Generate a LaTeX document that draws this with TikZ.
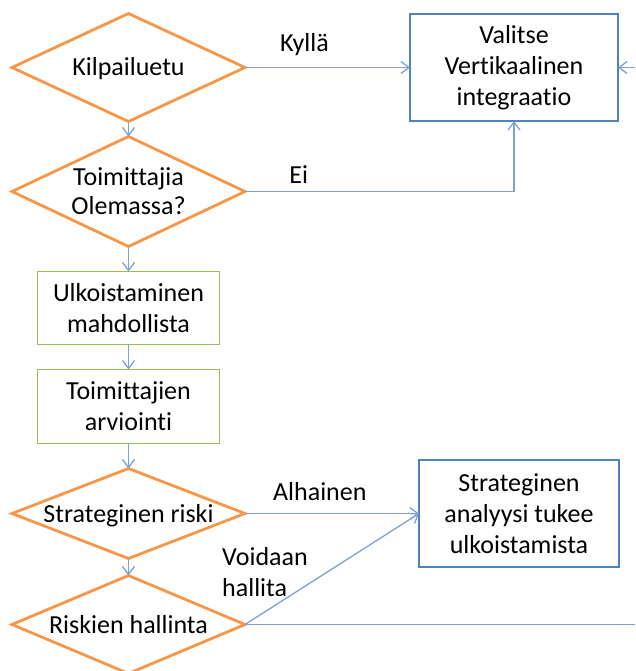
\documentclass[tikz,border=0pt]{standalone}
\usepackage{fontspec}
\setmainfont[Ligatures=NoCommon]{Carlito}
\usetikzlibrary{positioning,shapes.geometric,arrows.meta}

\definecolor{decisionline}{RGB}{247,150,70}
\definecolor{processline}{RGB}{155,187,89}
\definecolor{resultline}{RGB}{79,129,189}
\definecolor{flowline}{RGB}{126,161,212}

\tikzset{
    boxtext/.style={font=\fontsize{26}{31}\selectfont, align=center, outer sep=0pt},
    decision/.style={boxtext, diamond, draw=decisionline, line width=2.8pt, inner sep=0pt, aspect=2.6, text height=17pt, text depth=0pt, minimum width=233pt},
    process/.style={boxtext, rectangle, draw=processline, line width=1.2pt, minimum width=182pt},
    result/.style={boxtext, rectangle, draw=resultline, line width=2.8pt, minimum width=208pt, minimum height=107pt},
    flow/.style={draw=flowline, line width=1.3pt, -{Straight Barb[length=8pt,width=12pt]}},
    link/.style={draw=flowline, line width=1.3pt},
    lbl/.style={font=\fontsize{26}{31}\selectfont, inner sep=0pt}
}

\begin{document}
\begin{tikzpicture}[x=1pt, y=-1pt]
                \useasboundingbox (0,0) rectangle (635,671);

                \node[decision, minimum height=108pt] (kilp) at (128.5,67.5) {Kilpailuetu};
                \node[decision, font=\fontsize{26}{29}\selectfont, aspect=2.2, text height=46pt, minimum height=110pt, below=15pt of kilp] (toim) {Toimittajia\\Olemassa?};
                \node[process, minimum height=73pt, below=25pt of toim] (ulko) {Ulkoistaminen\\mahdollista};
                \node[process, minimum height=74pt, below=25pt of ulko] (arvi) {Toimittajien\\arviointi};
                \node[decision, minimum height=90pt, below=25pt of arvi] (risk) {Strateginen riski};
                \node[decision, minimum height=98pt, below=17pt of risk] (hall) {Riskien hallinta};

                \node[result, right=165pt of kilp] (vert) {Valitse\\Vertikaalinen\\integraatio};
                \node[result, minimum width=200pt, right=174pt of risk] (anal) {Strateginen\\analyysi tukee\\ulkoistamista};

                \node[lbl, align=left, anchor=west] (void) at (222,572) {Voidaan\\hallita};
                \coordinate (vertin) at (635,67.5);
                \coordinate (hallout) at (hall.east -| vertin);

                \draw[flow] (kilp) -- (toim);
                \draw[flow] (toim) -- (ulko);
                \draw[flow] (ulko) -- (arvi);
                \draw[flow] (arvi) -- (risk);
                \draw[flow] (risk) -- (hall);

                \draw[flow] (kilp) -- node[lbl, pos=.36, above=11pt] {Kyllä} (vert);
                \draw[flow] (toim.east) -| node[lbl, pos=.1, above=7pt] {Ei} (vert.south);
                \draw[flow] (vertin) -- (vert.east);
                \draw[flow] (risk) -- node[lbl, pos=.43, above=12pt] {Alhainen} (anal);
                \draw[flow] (hall.east) -- (anal.west);
                \draw[link] (hall.east) -- (hallout);
\end{tikzpicture}
\end{document}
